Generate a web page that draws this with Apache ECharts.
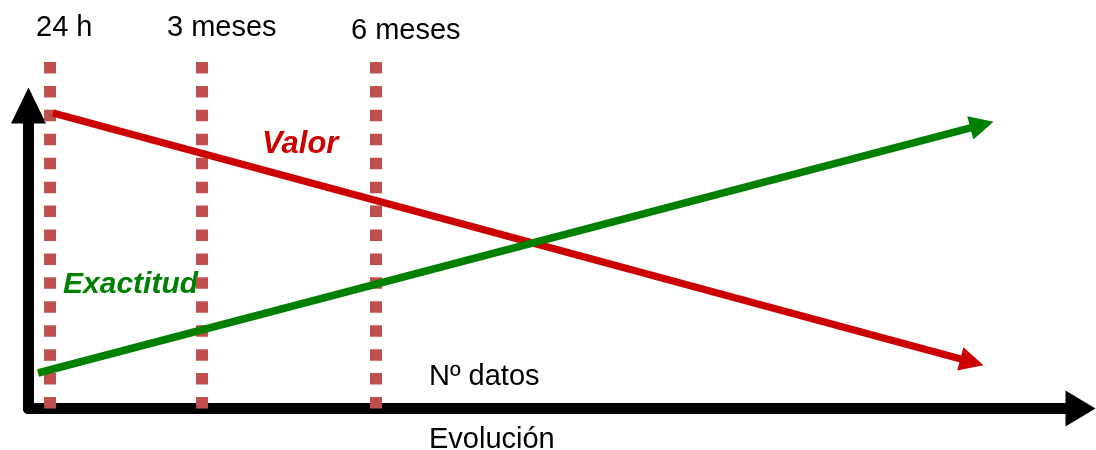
<!DOCTYPE html>
<html>
<head>
<meta charset="utf-8">
<script src="https://cdn.jsdelivr.net/npm/echarts@6/dist/echarts.min.js"></script>
<style>
  html, body { margin: 0; padding: 0; background: #fff; }
  #chart { width: 1096px; height: 450px; }
</style>
</head>
<body>
<div id="chart"></div>
<script>
// hitos temporales (lineas punteadas) y sus etiquetas
const hitos = ['24 h', '3 meses', '6 meses'];
const hitosX = [21.5, 173.5, 347.5];
const hitoTop = 346.5;

// flechas: [inicio, fin]
const valorLinea = [[24.5, 295.5], [943.4, 46.5]];
const exactitudLinea = [[9.5, 35.5], [953.4, 283.6]];

const FONT = '"Liberation Sans", Arial, sans-serif';
const DOT = '#C0504D';
const ROJO = '#CC0000';
const VERDE = '#008000';

// desplazamiento de cada etiqueta respecto al extremo superior de su linea
const labelShift = [[-14, -34], [-35, -34], [-25, -31]];

const chart = echarts.init(document.getElementById('chart'));

const axisBase = (arrowSize) => ({
  type: 'value',
  min: 0,
  axisLine: {
    show: true,
    symbol: ['none', 'triangle'],
    symbolSize: arrowSize,
    lineStyle: { color: '#000', width: 11 }
  },
  axisTick: { show: false },
  axisLabel: { show: false },
  splitLine: { show: false }
});

const hitoSeries = hitosX.map((x, i) => ({
  name: hitos[i],
  type: 'line',
  clip: false,
  silent: true,
  showSymbol: false,
  z: 2,
  lineStyle: { color: DOT, width: 12, type: [11.5, 12.43], cap: 'butt' },
  data: [[x, hitoTop], [x, 0]]
}));

const flecha = (name, coords, color) => ({
  name: name,
  type: 'lines',
  coordinateSystem: 'cartesian2d',
  silent: true,
  z: 3,
  symbol: ['none', 'triangle'],
  symbolSize: 24,
  lineStyle: { color: color, width: 7.5, opacity: 1, curveness: 0 },
  data: [{ coords: coords }]
});

chart.setOption({
  backgroundColor: '#fff',
  animation: false,
  grid: { left: 28.5, right: 15.5, top: 105.5, bottom: 41.5 },
  xAxis: Object.assign(axisBase([36, 30]), { max: 1052 }),
  yAxis: Object.assign(axisBase([35, 36]), { max: 303 }),
  series: hitoSeries.concat([
    flecha('Valor', valorLinea, ROJO),
    flecha('Exactitud', exactitudLinea, VERDE)
  ])
});

const texto = (text, x, y, extra) => ({
  type: 'text',
  x: x,
  y: y,
  silent: true,
  style: Object.assign({
    text: text,
    fill: '#000',
    fontFamily: FONT,
    fontSize: 29,
    align: 'left',
    verticalAlign: 'middle'
  }, extra || {})
});

const etiquetas = hitos.map((h, i) => {
  const p = chart.convertToPixel({ gridIndex: 0 }, [hitosX[i], hitoTop]);
  return texto(h, p[0] + labelShift[i][0], p[1] + labelShift[i][1]);
});

chart.setOption({
  graphic: etiquetas.concat([
    texto('Valor', 262, 144, { fill: ROJO, fontWeight: 'bold', fontStyle: 'italic', fontSize: 31 }),
    texto('Exactitud', 63, 285, { fill: VERDE, fontWeight: 'bold', fontStyle: 'italic', fontSize: 30 }),
    texto('Nº datos', 429, 377),
    texto('Evolución', 429, 440)
  ])
});
</script>
</body>
</html>
